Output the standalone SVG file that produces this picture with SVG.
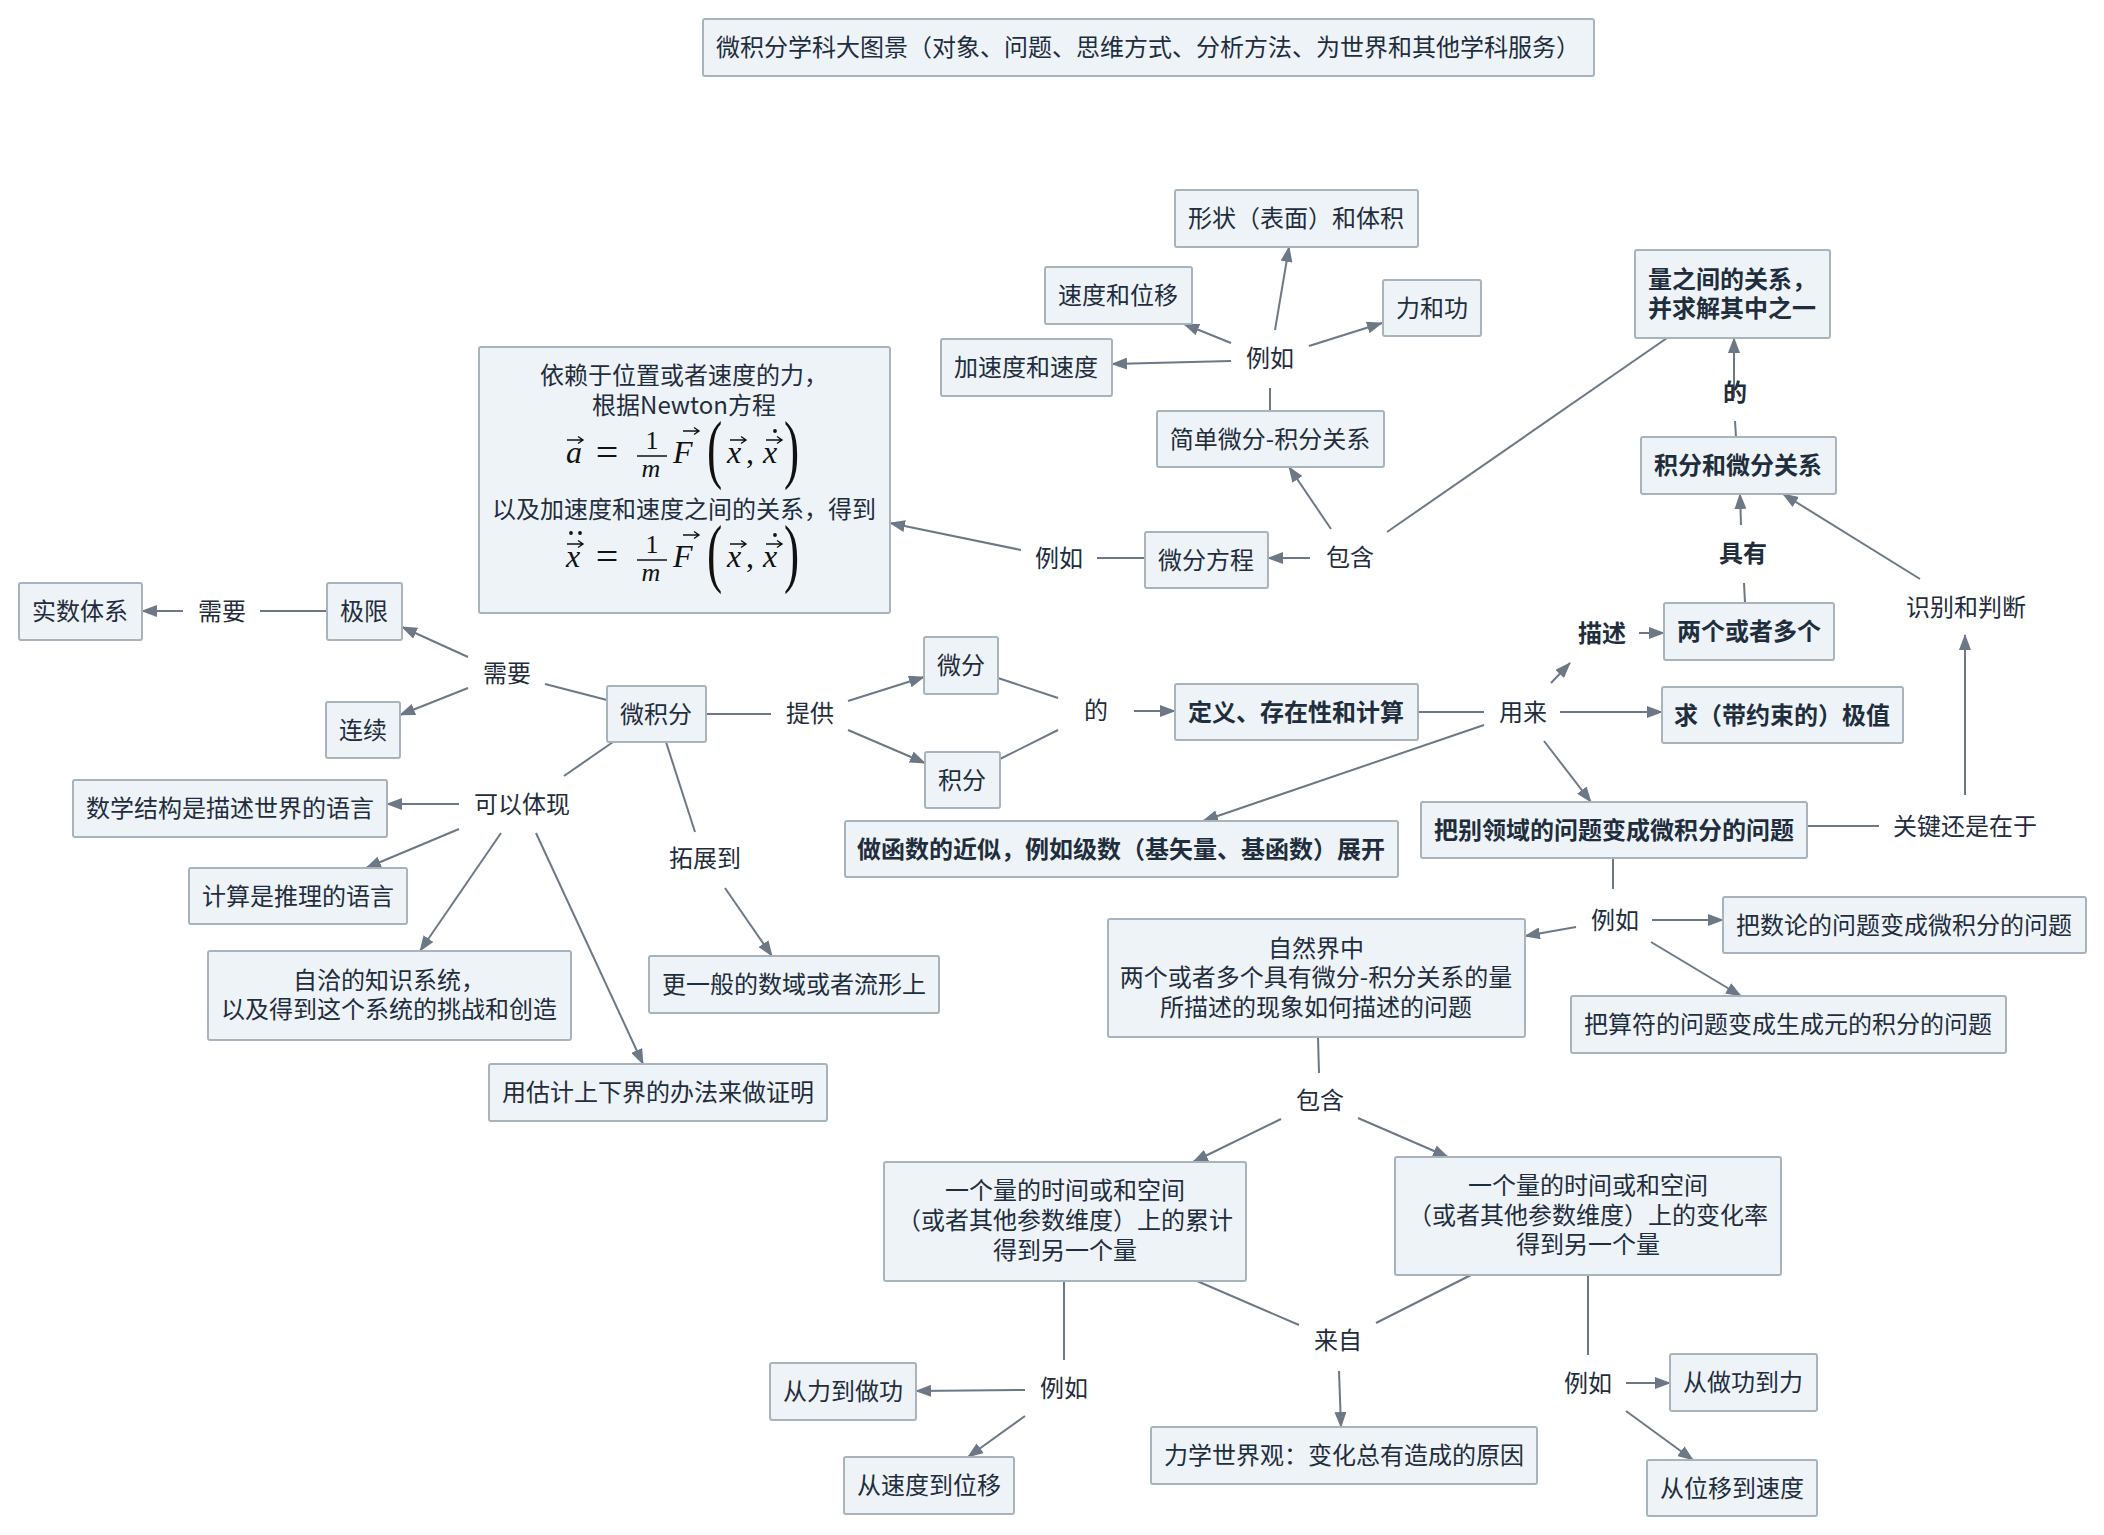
<svg xmlns="http://www.w3.org/2000/svg" width="2104" height="1535" viewBox="0 0 2104 1535">
<defs>
<style>
.box{fill:#edf3f7;stroke:#a9b3bc;stroke-width:2}
.t{font-family:'Noto Sans CJK SC','Noto Sans',sans-serif;font-size:24px;fill:#1f2d3d;text-anchor:middle;dominant-baseline:central;transform:translateY(-2px)}
.b{font-weight:700}
.c line{stroke:#6c7886;stroke-width:2;fill:none}
.c line.a{marker-end:url(#arr)}
.m{font-family:'Liberation Serif','DejaVu Serif',serif;font-size:32px;fill:#111}
.s{font-size:26px}
.e{font-size:40px}
.p{font-size:76px}
.i{font-style:italic}
.mid{text-anchor:middle}
.va{fill:none;stroke:#111;stroke-width:1.4}
</style>
<marker id="arr" markerUnits="userSpaceOnUse" markerWidth="16" markerHeight="12" refX="15" refY="6" orient="auto"><path d="M0,0 L16,6 L0,12 z" fill="#6c7886"/></marker>
<path id="va" class="va" d="M-8,0 H7 M3,-3.5 L8,0 L3,3.5"/>
<g id="rhs">
<text class="m e mid" x="607" y="466">=</text>
<text class="m s mid" x="652" y="449">1</text>
<line x1="637" y1="456" x2="667" y2="456" stroke="#111" stroke-width="1.5"/>
<text class="m s i mid" x="651" y="477">m</text>
<text class="m i" x="673" y="463">F</text>
<use href="#va" x="691" y="431"/>
<text class="m p" transform="translate(707,474) scale(0.6,1)">(</text>
<text class="m i" x="727" y="463">x</text>
<use href="#va" x="738" y="440"/>
<text class="m" x="746" y="463">,</text>
<text class="m i" x="763" y="463">x</text>
<use href="#va" x="774" y="440"/>
<circle cx="775" cy="431" r="1.9" fill="#111"/>
<text class="m p" transform="translate(784,474) scale(0.6,1)">)</text>
</g>
</defs>
<rect width="2104" height="1535" fill="#ffffff"/>

<g id="connectors" class="c">
<line class="a" x1="1275" y1="330" x2="1289" y2="247"/>
<line class="a" x1="1231" y1="343" x2="1184" y2="324"/>
<line class="a" x1="1309" y1="346" x2="1382" y2="323"/>
<line class="a" x1="1231" y1="361" x2="1112" y2="364"/>
<line x1="1270" y1="411" x2="1270" y2="388"/>
<line class="a" x1="1331" y1="529" x2="1289" y2="467"/>
<line x1="1387" y1="532" x2="1667" y2="338"/>
<line class="a" x1="1310" y1="558" x2="1268" y2="558"/>
<line x1="1145" y1="558" x2="1097" y2="558"/>
<line class="a" x1="1021" y1="550" x2="890" y2="523"/>
<line class="a" x1="1734" y1="398" x2="1734" y2="338"/>
<line x1="1736" y1="437" x2="1735" y2="421"/>
<line x1="1745" y1="603" x2="1744" y2="583"/>
<line class="a" x1="1741" y1="525" x2="1740" y2="494"/>
<line class="a" x1="1920" y1="579" x2="1783" y2="494"/>
<line class="a" x1="1965" y1="795" x2="1965" y2="635"/>
<line x1="1807" y1="826" x2="1879" y2="826"/>
<line class="a" x1="1639" y1="633" x2="1664" y2="633"/>
<line class="a" x1="1551" y1="683" x2="1570" y2="663"/>
<line class="a" x1="1560" y1="712" x2="1662" y2="712"/>
<line x1="1418" y1="712" x2="1484" y2="712"/>
<line class="a" x1="1484" y1="725" x2="1203" y2="821"/>
<line class="a" x1="1544" y1="741" x2="1591" y2="802"/>
<line class="a" x1="1134" y1="711" x2="1175" y2="711"/>
<line x1="998" y1="678" x2="1058" y2="698"/>
<line x1="1000" y1="759" x2="1058" y2="730"/>
<line class="a" x1="848" y1="701" x2="924" y2="677"/>
<line class="a" x1="848" y1="730" x2="925" y2="763"/>
<line x1="706" y1="714" x2="771" y2="714"/>
<line x1="607" y1="700" x2="545" y2="684"/>
<line class="a" x1="468" y1="657" x2="402" y2="627"/>
<line class="a" x1="468" y1="688" x2="400" y2="715"/>
<line x1="327" y1="611" x2="260" y2="611"/>
<line class="a" x1="183" y1="611" x2="142" y2="611"/>
<line x1="613" y1="742" x2="564" y2="776"/>
<line class="a" x1="459" y1="804" x2="387" y2="804"/>
<line class="a" x1="459" y1="829" x2="366" y2="868"/>
<line class="a" x1="501" y1="833" x2="420" y2="951"/>
<line class="a" x1="536" y1="833" x2="643" y2="1064"/>
<line x1="666" y1="742" x2="695" y2="832"/>
<line class="a" x1="725" y1="888" x2="772" y2="956"/>
<line x1="1613" y1="858" x2="1613" y2="889"/>
<line class="a" x1="1576" y1="927" x2="1525" y2="936"/>
<line class="a" x1="1652" y1="920" x2="1723" y2="920"/>
<line class="a" x1="1651" y1="942" x2="1741" y2="996"/>
<line x1="1318" y1="1037" x2="1319" y2="1073"/>
<line class="a" x1="1281" y1="1119" x2="1193" y2="1162"/>
<line class="a" x1="1358" y1="1118" x2="1448" y2="1157"/>
<line x1="1064" y1="1281" x2="1064" y2="1360"/>
<line x1="1197" y1="1281" x2="1299" y2="1325"/>
<line x1="1471" y1="1275" x2="1376" y2="1323"/>
<line class="a" x1="1339" y1="1371" x2="1341" y2="1427"/>
<line class="a" x1="1025" y1="1390" x2="916" y2="1391"/>
<line class="a" x1="1025" y1="1416" x2="968" y2="1457"/>
<line x1="1588" y1="1275" x2="1588" y2="1355"/>
<line class="a" x1="1626" y1="1383" x2="1670" y2="1383"/>
<line class="a" x1="1626" y1="1411" x2="1693" y2="1460"/>
</g>

<g id="n-title"><rect class="box" x="703" y="19" width="891" height="57" rx="2"/><text class="t" x="1148" y="47">微积分学科大图景（对象、问题、思维方式、分析方法、为世界和其他学科服务）</text></g>
<g id="n-xingzhuang"><rect class="box" x="1175" y="190" width="243" height="57" rx="2"/><text class="t" x="1296" y="218">形状（表面）和体积</text></g>
<g id="n-suduweiyi"><rect class="box" x="1045" y="267" width="147" height="57" rx="2"/><text class="t" x="1118" y="295">速度和位移</text></g>
<g id="n-ligong"><rect class="box" x="1383" y="280" width="98" height="56" rx="2"/><text class="t" x="1432" y="308">力和功</text></g>
<g id="n-jiasudu"><rect class="box" x="941" y="339" width="171" height="57" rx="2"/><text class="t" x="1026" y="367">加速度和速度</text></g>
<g id="l-liru1"><text class="t" x="1270" y="358">例如</text></g>
<g id="n-jiandan"><rect class="box" x="1157" y="411" width="227" height="56" rx="2"/><text class="t" x="1270" y="439">简单微分-积分关系</text></g>
<g id="n-liangzhijian"><rect class="box" x="1635" y="250" width="195" height="88" rx="2"/><text class="t b"><tspan x="1732" y="279">量之间的关系，</tspan><tspan x="1732" y="308">并求解其中之一</tspan></text></g>
<g id="l-de1"><text class="t b" x="1735" y="392">的</text></g>
<g id="n-jifenweifen"><rect class="box" x="1641" y="437" width="195" height="57" rx="2"/><text class="t b" x="1738" y="465">积分和微分关系</text></g>
<g id="n-newton"><rect class="box" x="479" y="347" width="411" height="266" rx="2"/>
<text class="t"><tspan x="684" y="375">依赖于位置或者速度的力，</tspan><tspan x="684" y="405">根据Newton方程</tspan></text>
<text class="m i" x="566" y="463">a</text>
<use href="#va" x="575" y="440"/>
<use href="#rhs"/>
<text class="t" x="684" y="509">以及加速度和速度之间的关系，得到</text>
<text class="m i" x="566" y="567">x</text>
<use href="#va" x="575" y="544"/>
<circle cx="571" cy="533" r="1.9" fill="#111"/>
<circle cx="580" cy="533" r="1.9" fill="#111"/>
<use href="#rhs" y="104"/>
</g>
<g id="l-liru2"><text class="t" x="1059" y="558">例如</text></g>
<g id="n-weifenfangcheng"><rect class="box" x="1145" y="532" width="123" height="56" rx="2"/><text class="t" x="1206" y="560">微分方程</text></g>
<g id="l-baohan1"><text class="t" x="1350" y="557">包含</text></g>
<g id="l-juyou"><text class="t b" x="1743" y="553">具有</text></g>
<g id="l-shibie"><text class="t" x="1966" y="607">识别和判断</text></g>
<g id="n-shishu"><rect class="box" x="19" y="583" width="123" height="57" rx="2"/><text class="t" x="80" y="611">实数体系</text></g>
<g id="l-xuyao1"><text class="t" x="222" y="611">需要</text></g>
<g id="n-jixian"><rect class="box" x="327" y="583" width="75" height="57" rx="2"/><text class="t" x="364" y="611">极限</text></g>
<g id="l-xuyao2"><text class="t" x="507" y="673">需要</text></g>
<g id="n-lianxu"><rect class="box" x="326" y="702" width="74" height="56" rx="2"/><text class="t" x="363" y="730">连续</text></g>
<g id="n-weijifen"><rect class="box" x="607" y="686" width="99" height="56" rx="2"/><text class="t" x="656" y="714">微积分</text></g>
<g id="l-tigong"><text class="t" x="810" y="713">提供</text></g>
<g id="n-weifen"><rect class="box" x="924" y="637" width="74" height="57" rx="2"/><text class="t" x="961" y="665">微分</text></g>
<g id="n-jifen"><rect class="box" x="925" y="752" width="75" height="56" rx="2"/><text class="t" x="962" y="780">积分</text></g>
<g id="l-de2"><text class="t" x="1096" y="710">的</text></g>
<g id="n-dingyi"><rect class="box" x="1175" y="684" width="243" height="56" rx="2"/><text class="t b" x="1296" y="712">定义、存在性和计算</text></g>
<g id="l-yonglai"><text class="t" x="1523" y="712">用来</text></g>
<g id="l-miaoshu"><text class="t b" x="1602" y="633">描述</text></g>
<g id="n-liangge"><rect class="box" x="1664" y="603" width="170" height="57" rx="2"/><text class="t b" x="1749" y="631">两个或者多个</text></g>
<g id="n-jizhi"><rect class="box" x="1662" y="687" width="241" height="56" rx="2"/><text class="t b" x="1782" y="715">求（带约束的）极值</text></g>
<g id="n-shuxue"><rect class="box" x="73" y="780" width="314" height="57" rx="2"/><text class="t" x="230" y="808">数学结构是描述世界的语言</text></g>
<g id="l-keyi"><text class="t" x="522" y="804">可以体现</text></g>
<g id="n-jinsi"><rect class="box" x="845" y="821" width="553" height="56" rx="2"/><text class="t b" x="1121" y="849">做函数的近似，例如级数（基矢量、基函数）展开</text></g>
<g id="n-biebie"><rect class="box" x="1421" y="802" width="386" height="56" rx="2"/><text class="t b" x="1614" y="830">把别领域的问题变成微积分的问题</text></g>
<g id="l-guanjian"><text class="t" x="1965" y="826">关键还是在于</text></g>
<g id="n-jisuan"><rect class="box" x="189" y="868" width="218" height="56" rx="2"/><text class="t" x="298" y="896">计算是推理的语言</text></g>
<g id="l-tuozhan"><text class="t" x="705" y="858">拓展到</text></g>
<g id="l-liru3"><text class="t" x="1615" y="920">例如</text></g>
<g id="n-shulun"><rect class="box" x="1723" y="897" width="363" height="56" rx="2"/><text class="t" x="1904" y="925">把数论的问题变成微积分的问题</text></g>
<g id="n-ziran"><rect class="box" x="1108" y="919" width="417" height="118" rx="2"/><text class="t"><tspan x="1316" y="948">自然界中</tspan><tspan x="1316" y="977">两个或者多个具有微分-积分关系的量</tspan><tspan x="1316" y="1007">所描述的现象如何描述的问题</tspan></text></g>
<g id="n-zixia"><rect class="box" x="208" y="951" width="363" height="89" rx="2"/><text class="t"><tspan x="389" y="980">自洽的知识系统，</tspan><tspan x="389" y="1009">以及得到这个系统的挑战和创造</tspan></text></g>
<g id="n-gengyiban"><rect class="box" x="649" y="956" width="290" height="57" rx="2"/><text class="t" x="794" y="984">更一般的数域或者流形上</text></g>
<g id="n-suanfu"><rect class="box" x="1571" y="996" width="435" height="57" rx="2"/><text class="t" x="1788" y="1024">把算符的问题变成生成元的积分的问题</text></g>
<g id="n-guji"><rect class="box" x="489" y="1064" width="338" height="57" rx="2"/><text class="t" x="658" y="1092">用估计上下界的办法来做证明</text></g>
<g id="l-baohan2"><text class="t" x="1320" y="1100">包含</text></g>
<g id="n-leiji"><rect class="box" x="884" y="1162" width="362" height="119" rx="2"/><text class="t"><tspan x="1065" y="1190">一个量的时间或和空间</tspan><tspan x="1065" y="1220">（或者其他参数维度）上的累计</tspan><tspan x="1065" y="1250">得到另一个量</tspan></text></g>
<g id="n-bianhua"><rect class="box" x="1395" y="1157" width="386" height="118" rx="2"/><text class="t"><tspan x="1588" y="1185">一个量的时间或和空间</tspan><tspan x="1588" y="1215">（或者其他参数维度）上的变化率</tspan><tspan x="1588" y="1244">得到另一个量</tspan></text></g>
<g id="l-laizi"><text class="t" x="1338" y="1340">来自</text></g>
<g id="l-liru4"><text class="t" x="1064" y="1388">例如</text></g>
<g id="l-liru5"><text class="t" x="1588" y="1383">例如</text></g>
<g id="n-lidaozuogong"><rect class="box" x="770" y="1363" width="146" height="57" rx="2"/><text class="t" x="843" y="1391">从力到做功</text></g>
<g id="n-zuogongdaoli"><rect class="box" x="1670" y="1354" width="147" height="57" rx="2"/><text class="t" x="1743" y="1382">从做功到力</text></g>
<g id="n-suduweiyi2"><rect class="box" x="844" y="1457" width="170" height="57" rx="2"/><text class="t" x="929" y="1485">从速度到位移</text></g>
<g id="n-lixue"><rect class="box" x="1151" y="1427" width="386" height="57" rx="2"/><text class="t" x="1344" y="1455">力学世界观：变化总有造成的原因</text></g>
<g id="n-weiyisudu"><rect class="box" x="1647" y="1460" width="170" height="56" rx="2"/><text class="t" x="1732" y="1488">从位移到速度</text></g>
</svg>
